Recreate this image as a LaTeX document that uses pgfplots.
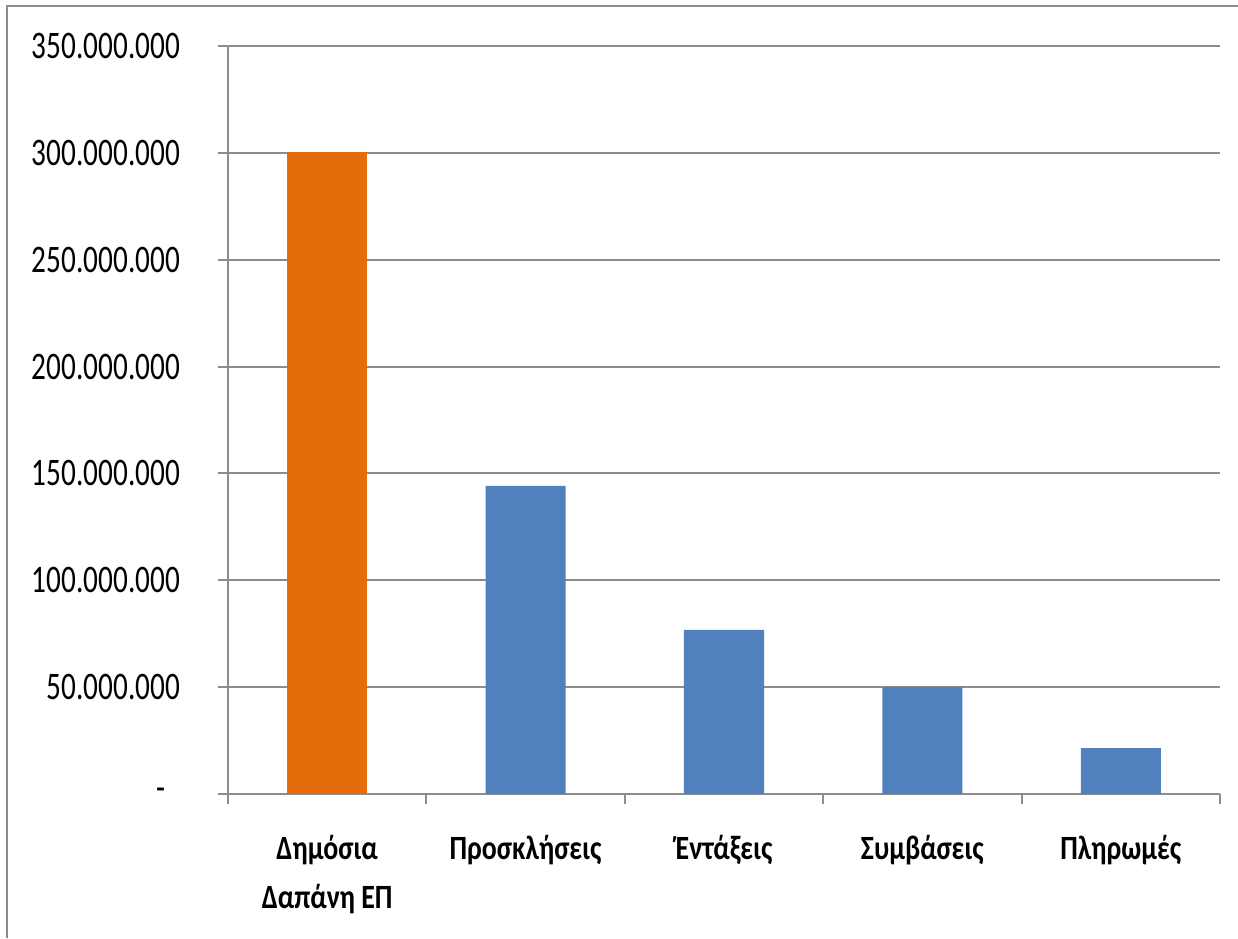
\documentclass[border=0pt]{standalone}
\usepackage{fontspec}
\setmainfont{Carlito}[FakeStretch=0.75]
\newfontfamily\labfont{Carlito}[FakeStretch=0.82]
\usepackage{pgfplots}
\pgfplotsset{compat=1.18}
\definecolor{gridgray}{HTML}{8C8C8C}
\definecolor{barorange}{HTML}{E46C0A}
\definecolor{barblue}{HTML}{4F81BD}
\begin{document}
\begin{tikzpicture}
\useasboundingbox (0,0) rectangle (619pt,469pt);
\draw[gridgray, line width=1pt] (3.5pt,0) -- (3.5pt,466pt) -- (619pt,466pt);
\begin{axis}[
  at={(114pt,72pt)}, anchor=south west,
  scale only axis, width=496pt, height=374pt,
  xmin=0.5, xmax=5.5, ymin=0, ymax=350000000,
  axis x line=bottom, axis y line=left,
  axis line style={-, gridgray, line width=1pt},
  ytick={0,50000000,100000000,150000000,200000000,250000000,300000000,350000000},
  yticklabels={-\hspace*{7pt},50.000.000,100.000.000,150.000.000,200.000.000,250.000.000,300.000.000,350.000.000},
  scaled y ticks=false,
  ymajorgrids, grid style={gridgray, line width=1pt},
  tick align=outside, major tick length=5pt,
  tick style={gridgray, line width=1pt},
  xtick={0.5,1.5,2.5,3.5,4.5,5.5}, xticklabels={},
  extra x ticks={1,2,3,4,5},
  extra x tick labels={{Δημόσια\\Δαπάνη ΕΠ},Προσκλήσεις,Έντάξεις,Συμβάσεις,Πληρωμές},
  extra x tick style={major tick length=0pt, grid=none,
    xticklabel style={align=center, anchor=north, yshift=-17pt,
      font=\labfont\fontsize{17}{24.5}\selectfont\bfseries, text=black}},
  yticklabel style={font=\fontsize{19.5}{23}\selectfont, text=black, xshift=-15.5pt},
  ybar, bar width=40pt, bar shift=0pt,
]
\addplot[fill=barorange, draw=none] coordinates {(1,300500000)};
\addplot[fill=barblue, draw=none] coordinates {(2,144200000) (3,76800000) (4,50100000) (5,21500000)};
\end{axis}
\end{tikzpicture}
\end{document}
